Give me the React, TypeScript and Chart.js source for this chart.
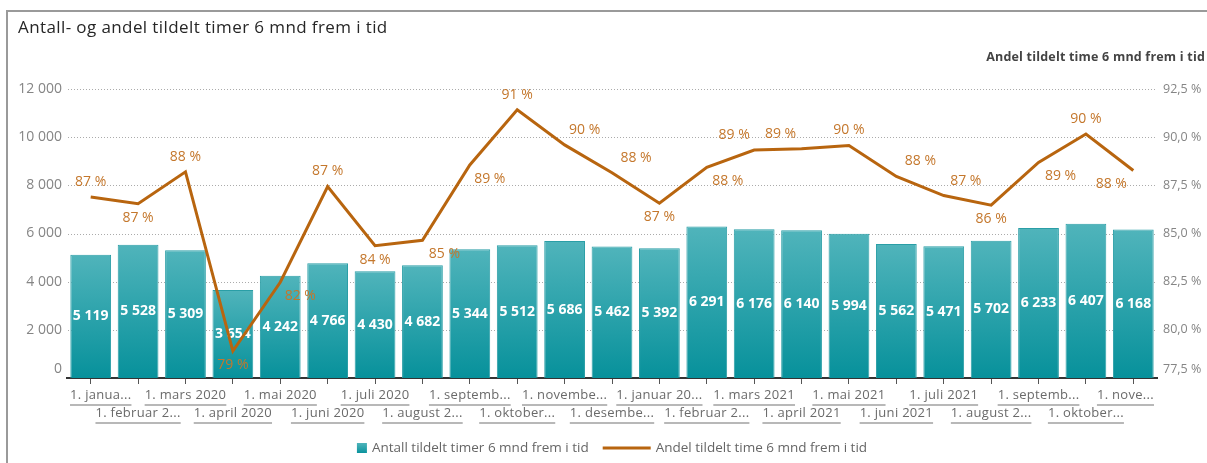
import React, { useEffect, useRef } from 'react';
import { Chart, registerables } from 'chart.js';

Chart.register(...registerables);

const categories = [
  '1. janua...', '1. februar 2...', '1. mars 2020', '1. april 2020', '1. mai 2020', '1. juni 2020',
  '1. juli 2020', '1. august 2...', '1. septemb...', '1. oktober...', '1. novembe...', '1. desembe...',
  '1. januar 20...', '1. februar 2...', '1. mars 2021', '1. april 2021', '1. mai 2021', '1. juni 2021',
  '1. juli 2021', '1. august 2...', '1. septemb...', '1. oktober...', '1. nove...',
];

const antall = [
  5119, 5528, 5309, 3654, 4242, 4766, 4430, 4682, 5344, 5512, 5686, 5462,
  5392, 6291, 6176, 6140, 5994, 5562, 5471, 5702, 6233, 6407, 6168,
];

const andel = [
  86.9, 86.55, 88.2, 78.9, 82.47, 87.44, 84.37, 84.65, 88.56, 91.42, 89.6, 88.15,
  86.57, 88.44, 89.33, 89.4, 89.57, 87.96, 86.97, 86.47, 88.69, 90.16, 88.27,
];

const leftAxis = { min: 0, max: 12000, step: 2000 };
const rightAxis = { min: 77.5, max: 92.5, step: 2.5 };

const title = 'Antall- og andel tildelt timer 6 mnd frem i tid';
const rightTitle = 'Andel tildelt time 6 mnd frem i tid';
const barName = 'Antall tildelt timer 6 mnd frem i tid';
const lineName = 'Andel tildelt time 6 mnd frem i tid';

// label placement styles for the line labels (a = above, b = below) and horizontal shifts
const linePlace = ['a','b','a','b','b','a','b','b','b','a','a','a','b','b','a','a','a','a','a','b','b','a','b'];
const lineShift = [0,0,0,0,20,0,0,22,20,0,20,24,0,21,-20,-21,0,24,22,0,22,0,-22];

const FONT = '"Open Sans", "DejaVu Sans", sans-serif';
const LINE_COLOR = '#b8650f';
const LABEL_COLOR = '#c4772c';

const fmtThousands = (v: number) => String(Math.round(v)).replace(/\B(?=(\d{3})+(?!\d))/g, ' ');
const fmtPct = (v: number) => v.toFixed(1).replace('.', ',') + ' %';

const setSpacing = (ctx: any, s: string) => {
  try { ctx.letterSpacing = s; } catch (e) { /* ignore */ }
};

const decor = {
  id: 'decor',
  beforeDatasetsDraw(chart: any) {
    const { ctx, chartArea: a, scales } = chart;
    const y = scales.y;
    ctx.save();
    ctx.strokeStyle = '#ababab';
    ctx.lineWidth = 1;
    ctx.setLineDash([1, 2]);
    y.ticks.forEach((t: any) => {
      if (t.value === leftAxis.min) return;
      const py = Math.round(y.getPixelForValue(t.value)) + 0.5;
      ctx.beginPath();
      ctx.moveTo(a.left + 1, py);
      ctx.lineTo(a.right, py);
      ctx.stroke();
    });
    ctx.restore();
  },
  afterDatasetDraw(chart: any, args: any) {
    if (args.index !== 0) return;
    const { ctx } = chart;
    const meta = chart.getDatasetMeta(0);
    ctx.save();
    ctx.fillStyle = '#ffffff';
    ctx.font = `bold 14px ${FONT}`;
    ctx.textAlign = 'center';
    ctx.textBaseline = 'middle';
    meta.data.forEach((el: any, i: number) => {
      ctx.fillText(fmtThousands(antall[i]), el.x, (el.y + el.base) / 2);
    });
    ctx.restore();
  },
  afterDraw(chart: any) {
    const { ctx, chartArea: a, scales } = chart;
    ctx.save();
    // frame
    ctx.strokeStyle = '#9a9a9a';
    ctx.lineWidth = 2;
    ctx.beginPath();
    ctx.moveTo(7, 463);
    ctx.lineTo(7, 11);
    ctx.lineTo(1207, 11);
    ctx.stroke();

    // title
    ctx.fillStyle = '#262626';
    ctx.font = `17px ${FONT}`;
    setSpacing(ctx, '0.4px');
    ctx.textAlign = 'left';
    ctx.textBaseline = 'middle';
    ctx.fillText(title, 18, 28);

    // right axis title
    ctx.fillStyle = '#444444';
    ctx.font = `bold 12.5px ${FONT}`;
    setSpacing(ctx, '0.2px');
    ctx.textAlign = 'right';
    ctx.fillText(rightTitle, 1205, 57);
    setSpacing(ctx, '0px');

    // line labels
    const lm = chart.getDatasetMeta(1);
    ctx.fillStyle = LABEL_COLOR;
    ctx.font = `14px ${FONT}`;
    ctx.textAlign = 'center';
    lm.data.forEach((p: any, i: number) => {
      const dy = linePlace[i] === 'a' ? -15 : 14;
      ctx.fillText(Math.round(andel[i]) + ' %', p.x + lineShift[i], p.y + dy);
    });

    // x labels (two rows, underlined)
    const x = scales.x;
    ctx.font = `13px ${FONT}`;
    setSpacing(ctx, '0.3px');
    categories.forEach((lab, i) => {
      const w = ctx.measureText(lab).width;
      let cx = x.getPixelForValue(i);
      cx = Math.max(cx, a.left + 3 + w / 2);
      cx = Math.min(cx, a.right - 3 - w / 2);
      const row = i % 2;
      const ty = 395 + row * 18;
      ctx.fillStyle = '#6a6a6a';
      ctx.textAlign = 'center';
      ctx.fillText(lab, cx, ty);
      ctx.fillStyle = '#b8b8b8';
      ctx.fillRect(cx - w / 2, ty + 9, w, 2);
    });
    setSpacing(ctx, '0px');

    // legend
    ctx.font = `13.5px ${FONT}`;
    const w1 = ctx.measureText(barName).width;
    const w2 = ctx.measureText(lineName).width;
    const total = 10 + 5 + w1 + 14 + 48 + 5 + w2;
    let lx = (a.left + a.right) / 2 - total / 2;
    const ly = 448;
    const g = ctx.createLinearGradient(0, ly - 5, 0, ly + 5);
    g.addColorStop(0, '#4fb4bb');
    g.addColorStop(1, '#0a939d');
    ctx.fillStyle = g;
    ctx.fillRect(lx, ly - 5, 10, 10);
    lx += 15;
    ctx.fillStyle = '#666666';
    ctx.textAlign = 'left';
    ctx.fillText(barName, lx, ly);
    lx += w1 + 14;
    ctx.strokeStyle = LINE_COLOR;
    ctx.lineWidth = 3;
    ctx.beginPath();
    ctx.moveTo(lx, ly);
    ctx.lineTo(lx + 48, ly);
    ctx.stroke();
    lx += 53;
    ctx.fillText(lineName, lx, ly);
    ctx.restore();
  },
};

export default function App() {
  const ref = useRef<HTMLCanvasElement>(null);
  useEffect(() => {
    if (!ref.current) return;
    const chart = new Chart(ref.current, {
      type: 'bar',
      data: {
        labels: categories,
        datasets: [
          {
            type: 'bar',
            label: barName,
            data: antall,
            yAxisID: 'y',
            order: 2,
            barPercentage: 0.86,
            categoryPercentage: 1,
            borderWidth: 1,
            borderColor: '#2a9ea6',
            backgroundColor: (c: any) => {
              const ch = c.chart;
              const ys = ch.scales && ch.scales.y;
              if (!ys || c.parsed == null || c.dataIndex == null) return '#2aa3ab';
              const top = ys.getPixelForValue(antall[c.dataIndex]);
              const bot = ys.getPixelForValue(0);
              if (!isFinite(top) || !isFinite(bot)) return '#2aa3ab';
              const g = ch.ctx.createLinearGradient(0, top, 0, bot);
              g.addColorStop(0, '#50b4bb');
              g.addColorStop(1, '#07919b');
              return g;
            },
          } as any,
          {
            type: 'line',
            label: lineName,
            data: andel,
            yAxisID: 'y1',
            order: 1,
            borderColor: LINE_COLOR,
            borderWidth: 3,
            pointRadius: 0,
            tension: 0,
            fill: false,
          } as any,
        ],
      },
      options: {
        animation: false,
        responsive: false,
        maintainAspectRatio: false,
        layout: { padding: { top: 89, left: 0, right: 0, bottom: 0 } },
        plugins: { legend: { display: false }, tooltip: { enabled: false }, title: { display: false } },
        scales: {
          x: {
            type: 'category',
            offset: true,
            z: 1,
            grid: { display: true, drawOnChartArea: false, drawTicks: true, tickLength: 6, color: '#555555', offset: false },
            border: { display: true, color: '#333333', width: 2 },
            ticks: { display: false },
            afterFit: (s: any) => { s.height = 85; },
          },
          y: {
            position: 'left',
            min: leftAxis.min,
            max: leftAxis.max,
            grid: { display: false, drawTicks: false },
            border: { display: false },
            ticks: {
              stepSize: leftAxis.step,
              padding: 5,
              color: '#858585',
              font: (c: any) => ({ family: FONT, size: 14, lineHeight: c.index === 0 ? 1.35 : 1.2 }),
              callback: (v: any, i: number) => (i === 0 ? [fmtThousands(v), ''] : fmtThousands(v)),
            },
            afterFit: (s: any) => { s.width = 67; },
          },
          y1: {
            position: 'right',
            min: rightAxis.min,
            max: rightAxis.max,
            grid: { display: false, drawTicks: false },
            border: { display: false },
            ticks: {
              stepSize: rightAxis.step,
              padding: 6,
              color: '#858585',
              font: (c: any) => ({ family: FONT, size: 12.5, lineHeight: c.index === 0 ? 1.45 : 1.2 }),
              callback: (v: any, i: number) => (i === 0 ? [fmtPct(v), ''] : fmtPct(v)),
            },
            afterFit: (s: any) => { s.width = 50; },
          },
        },
      },
      plugins: [decor],
    } as any);
    return () => chart.destroy();
  }, []);
  return (
    <div style={{ position: 'absolute', left: 0, top: 0, width: 1207, height: 463, background: '#ffffff' }}>
      <canvas ref={ref} width={1207} height={463} style={{ display: 'block' }} />
    </div>
  );
}
